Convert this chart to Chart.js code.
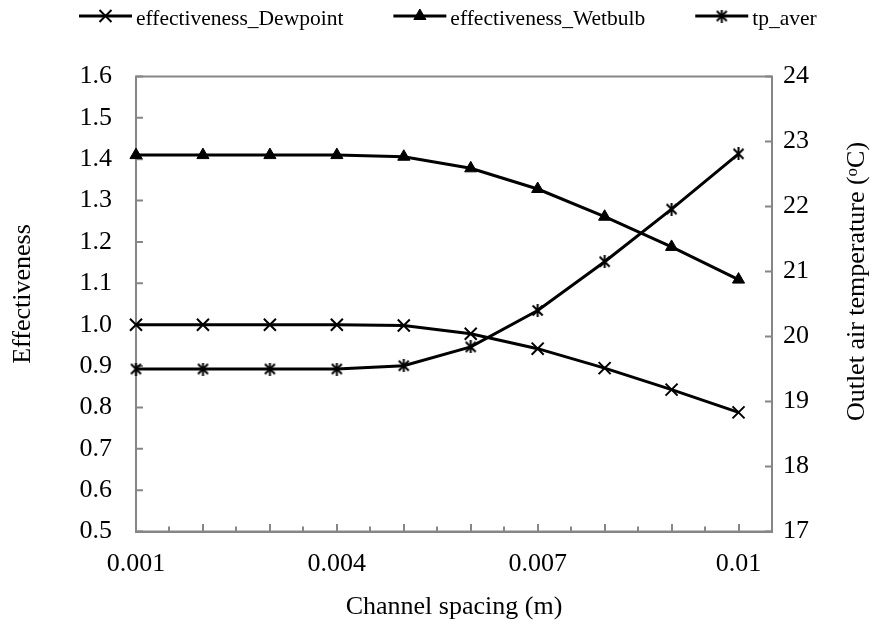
<!DOCTYPE html>
<html>
<head>
<meta charset="utf-8">
<script src="https://cdn.jsdelivr.net/npm/chart.js@4.4.0/dist/chart.umd.min.js"></script>
<style>
  html, body { margin: 0; padding: 0; background: #ffffff; }
  #wrap { width: 874px; height: 627px; position: relative; }
</style>
</head>
<body>
<div id="wrap"><canvas id="c" width="874" height="627"></canvas></div>
<script>
// ---------------- data ----------------
const channelSpacing = [0.001, 0.002, 0.003, 0.004, 0.005, 0.006, 0.007, 0.008, 0.009, 0.010];
const effectivenessDewpoint = [1.000, 1.000, 1.000, 1.000, 0.998, 0.978, 0.942, 0.895, 0.843, 0.788];
const effectivenessWetbulb = [1.410, 1.410, 1.410, 1.410, 1.406, 1.378, 1.328, 1.261, 1.188, 1.109];
const tpAver = [19.50, 19.50, 19.50, 19.50, 19.55, 19.84, 20.40, 21.15, 21.96, 22.81];

const seriesNames = ['effectiveness_Dewpoint', 'effectiveness_Wetbulb', 'tp_aver'];

const xTickValues = [0.001, 0.004, 0.007, 0.010];
const xTickLabels = ['0.001', '0.004', '0.007', '0.01'];
const leftTickValues = [0.5, 0.6, 0.7, 0.8, 0.9, 1.0, 1.1, 1.2, 1.3, 1.4, 1.5, 1.6];
const leftTickLabels = ['0.5', '0.6', '0.7', '0.8', '0.9', '1.0', '1.1', '1.2', '1.3', '1.4', '1.5', '1.6'];
const rightTickValues = [17, 18, 19, 20, 21, 22, 23, 24];
const rightTickLabels = ['17', '18', '19', '20', '21', '22', '23', '24'];
const xMinorTickValues = [0.001, 0.0015, 0.002, 0.0025, 0.003, 0.0035, 0.004, 0.0045, 0.005, 0.0055,
                          0.006, 0.0065, 0.007, 0.0075, 0.008, 0.0085, 0.009, 0.0095, 0.010, 0.0105];

const xTitle = 'Channel spacing (m)';
const leftTitle = 'Effectiveness';
// right title pieces: main text, superscript "o", then "C)"
const rightTitleParts = ['Outlet air temperature (', 'o', 'C)'];

// ---------------- styles ----------------
const FONT = '"Liberation Serif", "Times New Roman", serif';
const AXIS_COLOR = '#868686';

// asterisk marker (x plus vertical bar)
function makeAsterisk() {
  const c = document.createElement('canvas');
  c.width = 13; c.height = 13;
  const g = c.getContext('2d');
  g.strokeStyle = '#000'; g.lineWidth = 2; g.lineCap = 'butt';
  g.beginPath();
  g.moveTo(1.5, 1.5); g.lineTo(11.5, 11.5);
  g.moveTo(11.5, 1.5); g.lineTo(1.5, 11.5);
  g.moveTo(6.5, 0); g.lineTo(6.5, 13);
  g.stroke();
  return c;
}
const asterisk = makeAsterisk();

function pts(xs, ys) { return xs.map((x, i) => ({ x: x, y: ys[i] })); }

const datasets = [
  {
    label: seriesNames[0], data: pts(channelSpacing, effectivenessDewpoint), yAxisID: 'y',
    borderColor: '#000', backgroundColor: '#000', borderWidth: 3, tension: 0,
    pointStyle: 'crossRot', pointRadius: 8.5, pointBorderWidth: 2,
    pointBorderColor: '#000', pointBackgroundColor: '#000', clip: false
  },
  {
    label: seriesNames[1], data: pts(channelSpacing, effectivenessWetbulb), yAxisID: 'y',
    borderColor: '#000', backgroundColor: '#000', borderWidth: 3, tension: 0,
    pointStyle: 'triangle', pointRadius: 7, pointBorderWidth: 1,
    pointBorderColor: '#000', pointBackgroundColor: '#000', clip: false
  },
  {
    label: seriesNames[2], data: pts(channelSpacing, tpAver), yAxisID: 'y1',
    borderColor: '#000', backgroundColor: '#000', borderWidth: 3, tension: 0,
    pointStyle: asterisk, pointRadius: 6.5, pointBorderWidth: 2,
    pointBorderColor: '#000', pointBackgroundColor: '#000', clip: false
  }
];

// frame, inward tick marks, rotated y titles, legend
const decorations = {
  id: 'decorations',
  beforeDatasetsDraw(chart) {
    const { ctx, chartArea: a, scales } = chart;
    ctx.save();
    ctx.strokeStyle = AXIS_COLOR;
    ctx.lineWidth = 2;
    ctx.beginPath();
    xMinorTickValues.forEach((v, k) => {
      const px = Math.round(scales.x.getPixelForValue(v));
      const len = (k % 2 === 0) ? 7.5 : 5;
      ctx.moveTo(px, a.bottom); ctx.lineTo(px, a.bottom - len);
    });
    leftTickValues.forEach(v => {
      const py = scales.y.getPixelForValue(v);
      ctx.moveTo(a.left, py); ctx.lineTo(a.left + 7, py);
    });
    rightTickValues.forEach(v => {
      const py = scales.y1.getPixelForValue(v);
      ctx.moveTo(a.right, py); ctx.lineTo(a.right - 7, py);
    });
    ctx.stroke();
    ctx.strokeRect(a.left, a.top, a.right - a.left, a.bottom - a.top);
    ctx.restore();
  },
  afterDraw(chart) {
    const { ctx } = chart;
    ctx.save();
    ctx.fillStyle = '#000';
    ctx.font = '26px ' + FONT;
    ctx.textAlign = 'center';
    ctx.textBaseline = 'middle';
    // left title
    ctx.save();
    ctx.translate(23, 294);
    ctx.rotate(-Math.PI / 2);
    ctx.fillText(leftTitle, 0, 0);
    ctx.restore();

    // right title (reads bottom to top) with superscript o
    ctx.save();
    ctx.translate(857, 281.5);
    ctx.rotate(-Math.PI / 2);
    ctx.textAlign = 'left';
    const mainFont = '26px ' + FONT, supFont = '17px ' + FONT;
    ctx.font = mainFont; const w1 = ctx.measureText(rightTitleParts[0]).width;
    ctx.font = supFont; const w2 = ctx.measureText(rightTitleParts[1]).width;
    ctx.font = mainFont; const w3 = ctx.measureText(rightTitleParts[2]).width;
    let u = -(w1 + w2 + w3) / 2;
    ctx.font = mainFont; ctx.fillText(rightTitleParts[0], u, 0); u += w1;
    ctx.font = supFont; ctx.fillText(rightTitleParts[1], u, -4); u += w2;
    ctx.font = mainFont; ctx.fillText(rightTitleParts[2], u, 0);
    ctx.restore();

    // legend
    ctx.font = '21.5px ' + FONT;
    ctx.textAlign = 'left';
    ctx.textBaseline = 'alphabetic';
    let x = 79;
    const lineLen = 53, lineY = 16, textBase = 25;
    chart.data.datasets.forEach(ds => {
      ctx.strokeStyle = '#000';
      ctx.lineWidth = 3;
      ctx.beginPath();
      ctx.moveTo(x, lineY); ctx.lineTo(x + lineLen, lineY);
      ctx.stroke();
      ctx.fillStyle = '#000';
      ctx.strokeStyle = '#000';
      ctx.lineWidth = ds.pointBorderWidth;
      if (Chart.helpers && Chart.helpers.drawPoint) {
        Chart.helpers.drawPoint(ctx, { pointStyle: ds.pointStyle, radius: ds.pointRadius, rotation: 0, borderWidth: ds.pointBorderWidth }, x + lineLen / 2, lineY);
      }
      ctx.fillStyle = '#000';
      const tx = x + lineLen + 4;
      ctx.fillText(ds.label, tx, textBase);
      x = tx + ctx.measureText(ds.label).width + 50;
    });
    ctx.restore();
  }
};

const tickFont = { family: FONT, size: 26 };

new Chart(document.getElementById('c'), {
  type: 'line',
  data: { datasets: datasets },
  options: {
    responsive: false,
    animation: false,
    events: [],
    layout: { padding: { top: 76.5, left: 0, right: 0, bottom: 0 } },
    plugins: { legend: { display: false }, tooltip: { enabled: false } },
    scales: {
      x: {
        type: 'linear', position: 'bottom', min: 0.001, max: 0.0105,
        afterBuildTicks: s => { s.ticks = xTickValues.map(v => ({ value: v })); },
        afterFit: s => { s.height = 95.5; },
        ticks: { autoSkip: false, maxRotation: 0, padding: 17, color: '#000', font: tickFont,
                 callback: (v, i) => xTickLabels[i] },
        grid: { display: false, drawTicks: false },
        border: { display: true, color: AXIS_COLOR, width: 2 },
        title: { display: true, text: xTitle, color: '#000', font: tickFont, padding: { top: 0, bottom: 4 } }
      },
      y: {
        type: 'linear', position: 'left', min: 0.5, max: 1.6,
        afterBuildTicks: s => { s.ticks = leftTickValues.map(v => ({ value: v })); },
        afterFit: s => { s.width = 136; },
        ticks: { autoSkip: false, padding: 24, color: '#000', font: tickFont,
                 callback: (v, i) => leftTickLabels[i] },
        grid: { display: false, drawTicks: false },
        border: { display: true, color: AXIS_COLOR, width: 2 }
      },
      y1: {
        type: 'linear', position: 'right', min: 17, max: 24,
        afterBuildTicks: s => { s.ticks = rightTickValues.map(v => ({ value: v })); },
        afterFit: s => { s.width = 102; },
        ticks: { autoSkip: false, padding: 11, color: '#000', font: tickFont,
                 callback: (v, i) => rightTickLabels[i] },
        grid: { display: false, drawTicks: false },
        border: { display: true, color: AXIS_COLOR, width: 2 }
      }
    }
  },
  plugins: [decorations]
});
</script>
</body>
</html>
